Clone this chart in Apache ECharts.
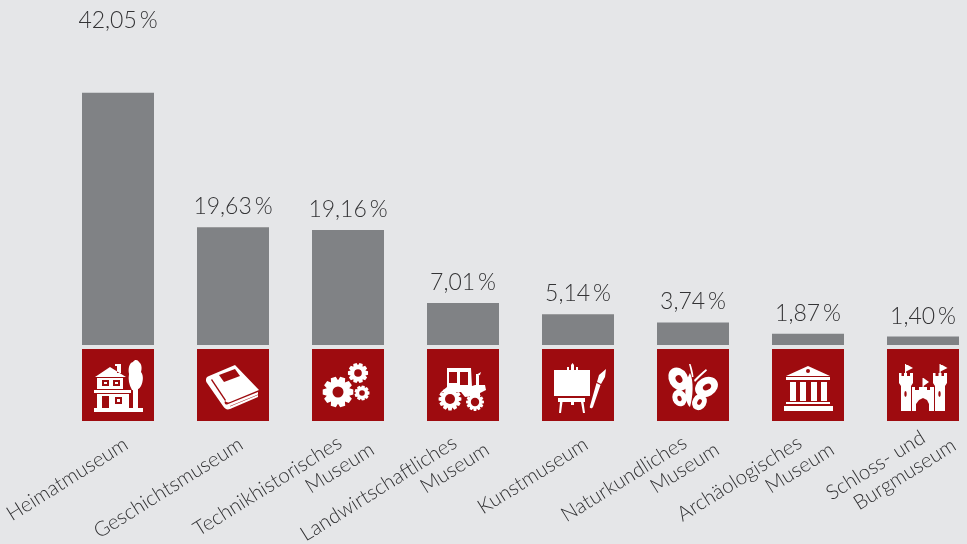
<!DOCTYPE html>
<html><head><meta charset="utf-8">
<style>html,body{margin:0;padding:0;background:#e5e6e8}#c{width:967px;height:544px}</style>
<script src="https://cdn.jsdelivr.net/npm/echarts@6/dist/echarts.min.js"></script>
</head><body><div id="c"></div>
<script>
const categories = ['Heimatmuseum','Geschichtsmuseum','Technikhistorisches\nMuseum','Landwirtschaftliches\nMuseum','Kunstmuseum','Naturkundliches\nMuseum','Archäologisches\nMuseum','Schloss- und\nBurgmuseum'];
const values = [42.05,19.63,19.16,7.01,5.14,3.74,1.87,1.40];
const iconNames = ['house','book','gears','tractor','easel','butterfly','temple','castle'];

const GREY='#808285', RED='#9e0b0f', BG='#e5e6e8', INK='#333335', FONT='Lato';

function rect(x0,y0,x1,y1){return `M${x0} ${y0}L${x1} ${y0}L${x1} ${y1}L${x0} ${y1}Z`;}
function poly(p){return 'M'+p.map(a=>a.join(' ')).join('L')+'Z';}
function circ(c,y,r){return `M${c-r} ${y}A${r} ${r} 0 1 1 ${c+r} ${y}A${r} ${r} 0 1 1 ${c-r} ${y}Z`;}
function ell(c,y,a,b,rot){
  const t=rot*Math.PI/180, dx=a*Math.cos(t), dy=a*Math.sin(t);
  return `M${c-dx} ${y-dy}A${a} ${b} ${rot} 1 1 ${c+dx} ${y+dy}A${a} ${b} ${rot} 1 1 ${c-dx} ${y-dy}Z`;
}
function gear(cx,cy,R,teeth){
  const pts=[], ri=R*0.76, n=teeth, st=2*Math.PI/n;
  for(let i=0;i<n;i++){
    const a=i*st;
    [[ri,-0.5],[R,-0.27],[R,0.27],[ri,0.5]].forEach(([r,f])=>{
      pts.push([cx+r*Math.cos(a+f*st),cy+r*Math.sin(a+f*st)]);
    });
  }
  return poly(pts);
}
const icons={
  house:{w:[
    'M50 41C47 36 46 30 47 25C46 20 47 14 51 13C53 10 56 11 57 13C60 15 60 20 59 23C62 27 61 33 59 37C57 41 53 42 50 41Z',
    rect(51,40,56,60),rect(12,59,61,63),poly([[28,18],[13,28],[44,28]]),rect(33,15,39,17),rect(35,17,39,24),
    rect(15,29,41,40),rect(12,41,49,44),rect(15,45,47,59)],
    r:[rect(20,31,27,37),rect(31,31,38,37),rect(20,47,27,59),rect(33,48,40,55)],
    w2:[rect(22,33,25,35),rect(33,33,36,35),rect(35,50,38,53)]},
  book:{w:[
    'M38 16L62 41L33 53C31 54 29 53 28 52C27 53.5 28 56 30 55.5L61 43L61 48L33 60C30 61 28 60 26 57L10 34C8 31 9 28 12 27Z'],
    r:[poly([[22,26],[38,20],[43,27],[27,33]]),poly([[14,31],[15,30],[29,51],[28,52]]),poly([[33,57],[61,45.5],[61,46],[33,57.6]])],w2:[]},
  gears:{w:[gear(26,43,15.5,10),gear(46,24,10.2,10),gear(50,44,7.6,9)],
    r:[circ(26,43,5.5),circ(46,24,3.8),circ(50,44,2.8)],w2:[]},
  tractor:{w:[
    poly([[20,19],[44,19],[45,38],[20,38]]),
    poly([[14,43],[20,38],[45,37],[48,36],[58,36],[59,41],[53,44],[53,46],[38,48],[34,43]]),
    rect(49,25,52,37),poly([[49,26],[54,23],[53,26],[49,27]]),
    gear(23,50,11.5,12),gear(48,53,9,12)],
    r:[rect(22,23,30,34),rect(33,23,41,36),circ(23,50,5),circ(48,53,4.2)],w2:[]},
  easel:{w:[
    rect(12,21,48,47),rect(16,49,43,53),
    poly([[18,53],[20.5,53],[19,64],[17,64]]),poly([[39,53],[41.5,53],[43,64],[41,64]]),rect(29,53,32,56),
    poly([[29,21],[29,16],[30.5,14],[32,16],[32,21]]),rect(25,18,27,21),rect(34,18,36,21),
    poly([[64,20],[63,28],[59,35],[55,33],[57,26]]),
    'M54.500 34L58.500 36L51 58C50 60 47 59.500 48 57Z'],r:[],w2:[]},
  butterfly:{w:[
    ell(21.5,30,12,9.5,60),ell(49.5,38,12,9.5,-30),ell(22.5,49,8.5,7,70),ell(42.5,53,8.5,7,-60),
    'M33 24C37 32 36 48 33 58C30 56 27 46 29 36C30 31 31 27 33 24Z',
    'M32 15L33.5 15C35 19 36 23 36.5 28L35 28C34 23 33 19 32 15Z','M49 20L50 21.5C46 25 42 29 38 33L37 31C41 27 45 23 49 20Z'],
    r:[ell(22,30,4,3.2,60),ell(50,38,4.4,3,-30),ell(22.5,49.5,2.8,2,70),ell(42.5,53,3,2,-60)],w2:[]},
  temple:{w:[poly([[36,17],[14,27],[58,27]]),rect(14,28,58,31),rect(18,33,24,52),rect(28,33,34,52),rect(39,33,45,52),rect(49,33,55,52),rect(14,53,58,55),rect(12,57,61,62)],
    r:[circ(36,22,2)],w2:[]},
  castle:{w:[
    poly([[12,24],[14.5,24],[14.5,27],[17,27],[17,24],[20,24],[20,27],[23,27],[23,24],[26,24],[26,34],[24,37],[24,62],[14,62],[14,37],[12,34]]),
    poly([[46,24],[48.5,24],[48.5,27],[51.5,27],[51.5,24],[54.5,24],[54.5,27],[57,27],[57,24],[60,24],[60,34],[58,37],[58,62],[48,62],[48,37],[46,34]]),
    poly([[25,38],[28,38],[28,41],[32,41],[32,38],[40,38],[40,41],[43,41],[43,38],[47,38],[47,62],[42,62],[42,55],[40,51],[36,49],[32,51],[29,55],[29,62],[25,62]]),
    rect(18,15,19.2,25),poly([[19,15],[26,19],[19,22.5]]),rect(52.500,15,53.7,25),poly([[53.5,15],[60.5,19],[53.5,22.5]]),rect(35.500,29,36.7,39),poly([[36.5,29],[42,33],[36.5,37]])],
    r:[ell(18.5,45,1.2,3,0),ell(52.500,45,1.2,3,0)],w2:[]}
};
const cell=72, gap=4;
function layer(d,fill){
  return {type:'path',shape:{pathData:'M0 0M'+cell+' '+cell+d,x:0,y:0,width:cell,height:cell,layout:'cover'},style:{fill}};
}
function renderIcon(params,api){
  const base=api.coord([api.value(0),0]);
  const ic=icons[iconNames[api.value(0)]];
  const kids=[{type:'rect',shape:{x:0,y:0,width:cell,height:cell},style:{fill:RED}}];
  if(ic.w.length)kids.push(layer(ic.w.join(''),'#fff'));
  ic.r.forEach(d=>kids.push(layer(d,RED)));
  ic.w2.forEach(d=>kids.push(layer(d,'#fff')));
  return {type:'group',x:base[0]-cell/2,y:base[1]+gap,children:kids};
}
const chart=echarts.init(document.getElementById('c'),null,{renderer:'canvas'});
const labelStyle={fontFamily:FONT,fontWeight:300,fontSize:20.5,lineHeight:23,color:INK};
chart.setOption({
  animation:false,
  backgroundColor:BG,
  grid:[
    {left:60.5,top:45,width:920,height:300,containLabel:false,outerBoundsMode:'none'},
    {left:90.6,top:45,width:920,height:300,containLabel:false,outerBoundsMode:'none'}
  ],
  xAxis:[
    {type:'category',data:categories,axisLine:{show:false},axisTick:{show:false},axisLabel:{show:false}},
    {type:'category',gridIndex:1,data:categories,axisLine:{show:false},axisTick:{show:false},
     axisLabel:{interval:0,rotate:32,margin:85.5,hideOverlap:false,...labelStyle,
      formatter:(v,i)=>{const p=v.split('\n');
        if(p.length<2)return `{c|${p[0]}}`;
        return i===categories.length-1?`{a2|${p[0]}}\n{b2|${p[1]}}`:`{a|${p[0]}}\n{b|${p[1]}}`;},
      rich:{a:{...labelStyle,padding:[0,38,0,0]},b:{...labelStyle,padding:[0,14,0,0]},
            a2:{...labelStyle,padding:[0,28,0,0]},b2:{...labelStyle,padding:[0,6,0,0]},
            c:{...labelStyle,padding:[0,25,3,0]}}}}
  ],
  yAxis:[
    {type:'value',min:0,max:50,show:false},
    {type:'value',gridIndex:1,min:0,max:50,show:false}
  ],
  series:[
    {type:'bar',barWidth:cell,itemStyle:{color:GREY},silent:true,
     data:values.map((v,i)=>({value:v,label:{offset:i===0?[0,-52]:[0,0]}})),
     label:{show:true,position:'top',distance:9,color:INK,fontFamily:FONT,fontWeight:300,fontSize:23,
       formatter:p=>p.value.toFixed(2).replace('.',',')+'\u2009%'}},
    {type:'custom',silent:true,renderItem:renderIcon,data:categories.map((c,i)=>[i]),encode:{x:0,y:-1},clip:false}
  ]
});
</script></body></html>
